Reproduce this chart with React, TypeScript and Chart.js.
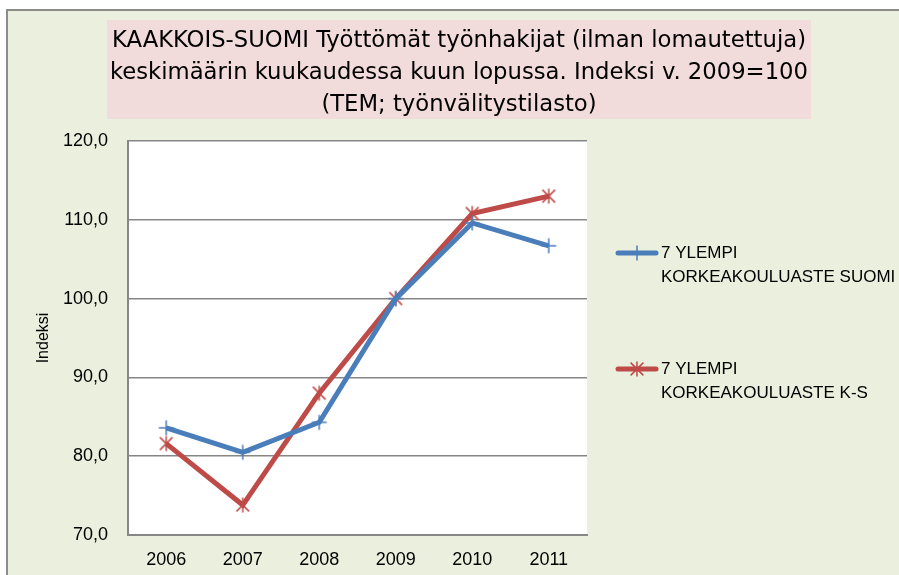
import React, { useEffect, useRef } from "react";
import { Chart, registerables } from "chart.js";

Chart.register(...registerables);

const categories = ["2006", "2007", "2008", "2009", "2010", "2011"];
const suomiValues = [83.6, 80.5, 84.3, 100.0, 109.6, 106.7];
const ksValues = [81.6, 73.8, 88.0, 100.0, 110.8, 113.0];
const seriesNames = [
  ["7 YLEMPI", "KORKEAKOULUASTE SUOMI"],
  ["7 YLEMPI", "KORKEAKOULUASTE K-S"],
];
const titleLines = [
  "KAAKKOIS-SUOMI Työttömät työnhakijat (ilman lomautettuja)",
  "keskimäärin kuukaudessa kuun lopussa. Indeksi v. 2009=100",
  "(TEM; työnvälitystilasto)",
];
const yAxisTitle = "Indeksi";
const yMin = 70;
const yMax = 120;
const yStep = 10;

const BLUE = "#4a7ebb";
const RED = "#be4b48";
const GRID = "#868686";
const BG = "#ebefde";
const PINK = "#f2dcdb";
const FONT = "'Liberation Sans', Arial, sans-serif";
const TITLE_FONT = "'DejaVu Sans Condensed', 'Liberation Sans', sans-serif";

function makeMarker(kind: "plus" | "star", color: string): HTMLCanvasElement {
  const c = document.createElement("canvas");
  const s = 18;
  c.width = s;
  c.height = s;
  const ctx = c.getContext("2d")!;
  ctx.strokeStyle = color;
  ctx.lineWidth = 1.5;
  const m = s / 2;
  const r = 7.5;
  ctx.beginPath();
  if (kind === "plus") {
    ctx.moveTo(m - r, m);
    ctx.lineTo(m + r, m);
    ctx.moveTo(m, m - r);
    ctx.lineTo(m, m + r);
  } else {
    const d = r * 0.85;
    ctx.moveTo(m - d, m - d);
    ctx.lineTo(m + d, m + d);
    ctx.moveTo(m + d, m - d);
    ctx.lineTo(m - d, m + d);
    ctx.moveTo(m, m - r);
    ctx.lineTo(m, m + r);
  }
  ctx.stroke();
  return c;
}

export default function App() {
  const ref = useRef<HTMLCanvasElement | null>(null);

  useEffect(() => {
    if (!ref.current) return;
    const plusImg = makeMarker("plus", BLUE);
    const starImg = makeMarker("star", RED);

    const framePlugin = {
      id: "frame",
      beforeDraw(chart: any) {
        const ctx = chart.ctx;
        const { chartArea } = chart;
        ctx.save();
        ctx.fillStyle = BG;
        ctx.fillRect(7, 10, 920, 600);
        ctx.fillStyle = "#8c8c8c";
        ctx.fillRect(6, 9, 2, 600);
        ctx.fillRect(6, 9, 920, 2);
        // title box
        ctx.fillStyle = PINK;
        ctx.fillRect(107, 20, 811 - 107, 119 - 20);
        ctx.fillStyle = "#000";
        ctx.font = `23px ${TITLE_FONT}`;
        ctx.textAlign = "center";
        ctx.textBaseline = "alphabetic";
        const w0 = ctx.measureText(titleLines[0]).width;
        const sx = 694 / w0;
        const baselines = [47, 79, 111];
        titleLines.forEach((t, i) => {
          ctx.save();
          ctx.translate(459, baselines[i]);
          ctx.scale(sx, 1);
          ctx.fillText(t, 0, 0);
          ctx.restore();
        });
        // plot background
        ctx.fillStyle = "#ffffff";
        ctx.fillRect(chartArea.left, chartArea.top, chartArea.right - chartArea.left, chartArea.bottom - chartArea.top);
        // y axis title
        ctx.save();
        ctx.translate(44, (chartArea.top + chartArea.bottom) / 2);
        ctx.rotate(-Math.PI / 2);
        ctx.font = `16px ${FONT}`;
        ctx.textAlign = "center";
        ctx.textBaseline = "middle";
        ctx.fillStyle = "#000";
        ctx.fillText(yAxisTitle, 0, 0);
        ctx.restore();
        ctx.restore();
      },
      afterDraw(chart: any) {
        const ctx = chart.ctx;
        ctx.save();
        const items = [
          { y: 253, color: BLUE, img: plusImg, lines: seriesNames[0] },
          { y: 369, color: RED, img: starImg, lines: seriesNames[1] },
        ];
        items.forEach((it) => {
          ctx.strokeStyle = it.color;
          ctx.lineWidth = 5;
          ctx.lineCap = "round";
          ctx.beginPath();
          ctx.moveTo(618, it.y);
          ctx.lineTo(656, it.y);
          ctx.stroke();
          ctx.drawImage(it.img, 637 - 9, it.y - 9);
          ctx.fillStyle = "#000";
          ctx.font = `17px ${FONT}`;
          ctx.textAlign = "left";
          ctx.textBaseline = "alphabetic";
          ctx.fillText(it.lines[0], 661, it.y + 5);
          ctx.fillText(it.lines[1], 661, it.y + 29);
        });
        ctx.restore();
      },
    };

    const chart = new Chart(ref.current, {
      type: "line",
      data: {
        labels: categories,
        datasets: [
          {
            label: seriesNames[0].join(" "),
            data: suomiValues,
            borderColor: BLUE,
            backgroundColor: BLUE,
            borderWidth: 5,
            pointStyle: plusImg as any,
            pointRadius: 7,
            tension: 0,
          },
          {
            label: seriesNames[1].join(" "),
            data: ksValues,
            borderColor: RED,
            backgroundColor: RED,
            borderWidth: 5,
            pointStyle: starImg as any,
            pointRadius: 7,
            tension: 0,
          },
        ],
      },
      options: {
        responsive: false,
        animation: false,
        layout: { padding: { left: 0, top: 141, right: 312, bottom: 0 } },
        plugins: {
          legend: { display: false },
          title: { display: false },
          tooltip: { enabled: false },
        },
        scales: {
          x: {
            offset: true,
            grid: { display: true, color: "transparent", drawTicks: false },
            border: { display: true, color: GRID, width: 2 },
            ticks: { color: "#000", font: { family: FONT, size: 18 }, padding: 14 },
            afterFit: (s: any) => {
              s.height = 40;
            },
          },
          y: {
            min: yMin,
            max: yMax,
            grid: { color: GRID, lineWidth: 1.5, drawTicks: false },
            border: { display: true, color: GRID, width: 2 },
            ticks: {
              stepSize: yStep,
              color: "#000",
              font: { family: FONT, size: 18 },
              padding: 20,
              callback: (v: any) => Number(v).toFixed(1).replace(".", ","),
            },
            afterFit: (s: any) => {
              s.width = 128;
            },
          },
        },
      },
      plugins: [framePlugin],
    } as any);
    return () => chart.destroy();
  }, []);

  return (
    <div style={{ position: "fixed", left: 0, top: 0, width: 899, height: 575, overflow: "hidden" }}>
      <canvas ref={ref} width={899} height={575} style={{ display: "block" }} />
    </div>
  );
}
